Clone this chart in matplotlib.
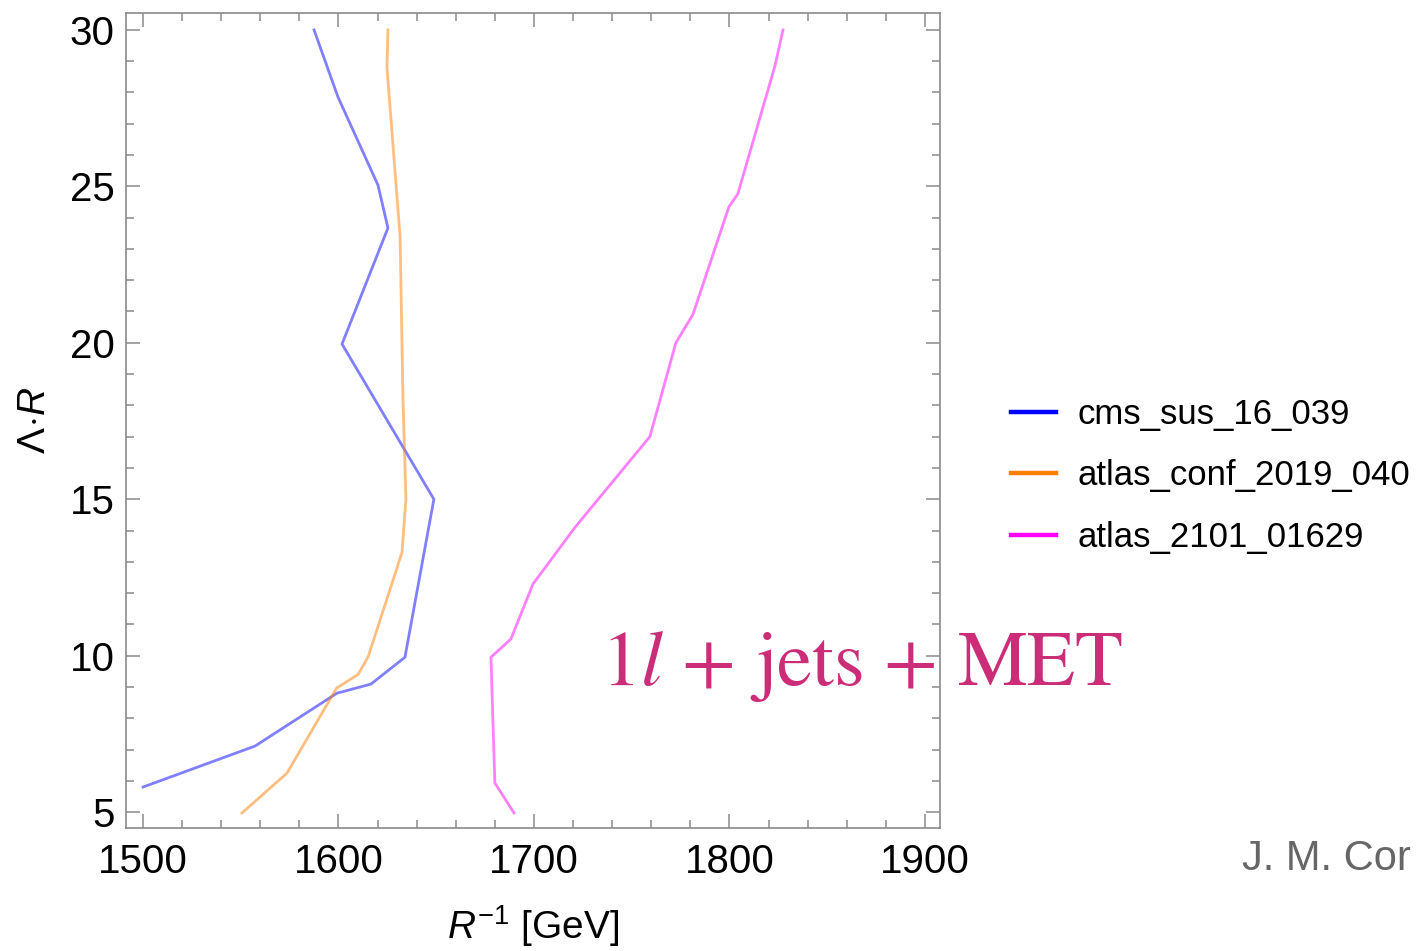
import matplotlib
matplotlib.use("Agg")
import matplotlib.pyplot as plt
from matplotlib.lines import Line2D
from matplotlib.ticker import MultipleLocator

plt.rcParams['font.family'] = ['Liberation Sans', 'DejaVu Sans']
plt.rcParams['mathtext.fontset'] = 'custom'
plt.rcParams['mathtext.rm'] = 'Liberation Sans'
plt.rcParams['mathtext.it'] = 'Liberation Sans:italic'

# exclusion contours: R^-1 [GeV] vs Lambda*R
cms_x = [1587.5, 1599.7, 1620.2, 1625.3, 1601.8, 1648.8, 1634.0, 1616.6, 1599.2, 1557.3, 1500.0]
cms_y = [30.0, 27.86, 25.04, 23.67, 19.96, 15.0, 9.95, 9.09, 8.8, 7.11, 5.8]

conf_x = [1625.3, 1624.8, 1631.5, 1633.0, 1634.5, 1632.5, 1615.1, 1610.0, 1599.0, 1573.7, 1550.6]
conf_y = [30.0, 28.8, 23.4, 18.2, 15.0, 13.3, 9.95, 9.4, 8.96, 6.25, 4.97]

a21_x = [1827.4, 1823.3, 1804.3, 1799.7, 1781.3, 1772.6, 1759.3, 1721.0, 1699.5, 1688.2, 1678.0, 1680.0, 1689.8]
a21_y = [30.0, 28.85, 24.76, 24.34, 20.9, 20.0, 17.0, 14.1, 12.29, 10.53, 9.95, 5.93, 4.97]

names = ['cms_sus_16_039', 'atlas_conf_2019_040', 'atlas_2101_01629']
colors = ['#0000ff', '#ff7f00', '#ff00ff']

fig = plt.figure(figsize=(14.16, 9.51), dpi=100)
ax = fig.add_axes([0.089, 0.1293, 0.5748, 0.857])

for xs, ys, c in zip([cms_x, conf_x, a21_x], [cms_y, conf_y, a21_y], colors):
    ax.plot(xs, ys, color=c, alpha=0.5, lw=2.0)

ax.set_xlim(1491.3, 1907.7)
ax.set_ylim(4.49, 30.54)
ax.xaxis.set_major_locator(MultipleLocator(100))
ax.xaxis.set_minor_locator(MultipleLocator(20))
ax.yaxis.set_major_locator(MultipleLocator(5))
ax.yaxis.set_minor_locator(MultipleLocator(1))

for s in ax.spines.values():
    s.set_color('#8a8a8a')
    s.set_linewidth(1.2)
ax.tick_params(which='both', direction='in', top=True, right=True,
               color='#8a8a8a', labelsize=29, width=1.1)
ax.tick_params(axis='x', pad=11)
ax.tick_params(axis='y', pad=8)
ax.tick_params(which='major', length=10)
ax.tick_params(which='minor', length=6)

ax.set_xlabel(r'$R^{-1}$ [GeV]', fontsize=28, labelpad=16)
ax.set_ylabel(r'$\Lambda\!\cdot\!R$', fontsize=28, labelpad=12)

handles = [Line2D([], [], color=c, lw=3.2) for c in colors]
fig.legend(handles, names, loc='center left', bbox_to_anchor=(0.692, 0.4995),
           frameon=False, fontsize=25, handlelength=1.3, handletextpad=0.6,
           labelspacing=0.82)

fig.text(0.4245, 0.2797, r'1$l$ + jets + MET', fontsize=56.5, fontfamily='STIXGeneral',
         color='#cc2d78', math_fontfamily='stix', ha='left', va='baseline')

fig.text(0.877, 0.085, 'J. M. Cor', fontsize=30, color='#666666', ha='left', va='baseline')

fig.savefig('out.png', dpi=100)
